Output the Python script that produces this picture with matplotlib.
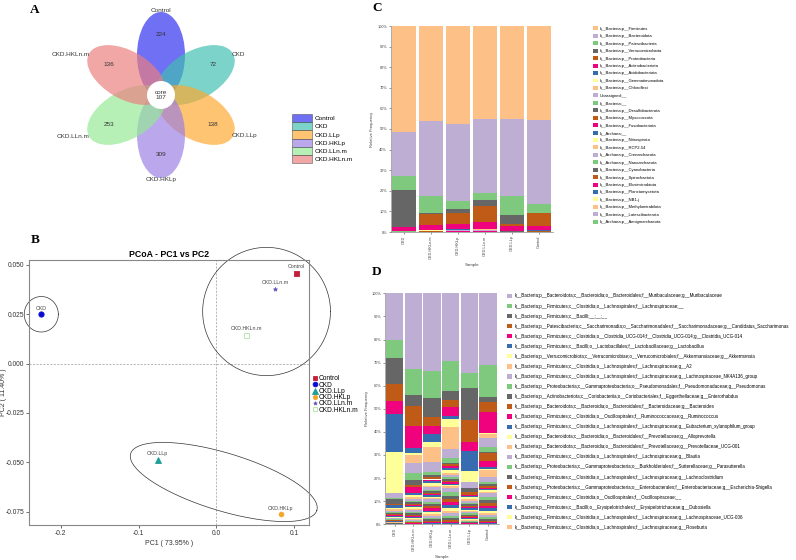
import numpy as np
import matplotlib
matplotlib.use('Agg')
import matplotlib.pyplot as plt
from matplotlib.patches import Ellipse, Circle, Patch

plt.rcParams['font.family'] = ['Liberation Sans', 'DejaVu Sans']

W, H = 796, 560

# ---------------- data ----------------
# A: flower venn
venn_groups = ['Control', 'CKD', 'CKD.LLp', 'CKD.HKLp', 'CKD.LLn.m', 'CKD.HKLn.m']
venn_unique = [224, 72, 138, 309, 253, 136]
venn_core = 107
venn_colors = ['#2C2CF1', '#3EBFB0', '#FFA930', '#9B7EE2', '#94EA94', '#EC7E7E']

# B: PCoA
pcoa_groups = ['Control', 'CKD', 'CKD.LLp', 'CKD.HKLp', 'CKD.LLn.m', 'CKD.HKLn.m']
pc1 = [0.1024, -0.2250, -0.0755, 0.0828, 0.0755, 0.0386]
pc2 = [0.0461, 0.0250, -0.0488, -0.0764, 0.0380, 0.0146]
# group ellipses: centre, first semi-axis vector, second semi-axis vector
ellipses = [
    ((-0.2250, 0.0250), (0.0219, 0.0), (0.0, 0.0090)),
    ((0.0644, 0.0264), (0.0821, 0.0), (0.0, 0.0325)),
    ((0.0094, -0.0600), (0.1196, -0.01436), (-0.01079, -0.01400)),
]

# C / D: samples
samples = ['CKD', 'CKD.HKLn.m', 'CKD.HKLp', 'CKD.LLn.m', 'CKD.LLp', 'Control']
palette = ['#FDC086', '#BEAED4', '#7FC97F', '#666666', '#BF5B17', '#F0027F', '#386CB0', '#FFFF99']

phyla = ['k__Bacteria;p__Firmicutes', 'k__Bacteria;p__Bacteroidota', 'k__Bacteria;p__Patescibacteria',
         'k__Bacteria;p__Verrucomicrobiota', 'k__Bacteria;p__Proteobacteria', 'k__Bacteria;p__Actinobacteriota',
         'k__Bacteria;p__Acidobacteriota', 'k__Bacteria;p__Gemmatimonadota', 'k__Bacteria;p__Chloroflexi',
         'Unassigned;__', 'k__Bacteria;__', 'k__Bacteria;p__Desulfobacterota', 'k__Bacteria;p__Myxococcota',
         'k__Bacteria;p__Fusobacteriota', 'k__Archaea;__', 'k__Bacteria;p__Nitrospirota', 'k__Bacteria;p__RCP2-54',
         'k__Archaea;p__Crenarchaeota', 'k__Archaea;p__Nanoarchaeota', 'k__Bacteria;p__Cyanobacteria',
         'k__Bacteria;p__Spirochaetota', 'k__Bacteria;p__Elusimicrobiota', 'k__Bacteria;p__Planctomycetota',
         'k__Bacteria;p__NB1-j', 'k__Bacteria;p__Methylomirabilota', 'k__Bacteria;p__Latescibacterota',
         'k__Archaea;p__Aenigmarchaeota']
phylum_vals = [
    [51.5, 46.4, 47.8, 45.3, 45.1, 45.9],
    [21.2, 36.2, 37.4, 35.9, 37.6, 40.6],
    [7.1, 8.4, 4.1, 3.3, 9.0, 4.3],
    [17.8, 0.7, 1.8, 3.3, 4.6, 0.1],
    [0.2, 5.0, 5.1, 7.8, 0.8, 6.4],
    [1.9, 2.7, 2.8, 3.1, 2.4, 2.1],
    [0.05, 0.08, 0.10, 0.12, 0.06, 0.08],
    [0.03, 0.05, 0.06, 0.08, 0.04, 0.05],
    [0.02, 0.10, 0.15, 0.60, 0.05, 0.10],
    [0.05, 0.20, 0.50, 0.20, 0.15, 0.15],
    [0.04, 0.10, 0.10, 0.15, 0.08, 0.08],
    [0.03, 0.06, 0.08, 0.10, 0.05, 0.06],
    [0.02, 0.04, 0.05, 0.06, 0.03, 0.04],
    [0.02, 0.03, 0.04, 0.05, 0.03, 0.03],
    [0.02, 0.03, 0.03, 0.04, 0.02, 0.03],
    [0.01, 0.02, 0.03, 0.03, 0.02, 0.02],
    [0.01, 0.02, 0.02, 0.03, 0.02, 0.02],
    [0.01, 0.02, 0.02, 0.02, 0.01, 0.02],
    [0.01, 0.01, 0.02, 0.02, 0.01, 0.01],
    [0.01, 0.01, 0.02, 0.02, 0.01, 0.01],
    [0.01, 0.01, 0.01, 0.02, 0.01, 0.01],
    [0.01, 0.01, 0.01, 0.01, 0.01, 0.01],
    [0.01, 0.01, 0.01, 0.01, 0.01, 0.01],
    [0.01, 0.01, 0.01, 0.01, 0.01, 0.01],
    [0.01, 0.01, 0.01, 0.01, 0.01, 0.01],
    [0.01, 0.01, 0.01, 0.01, 0.01, 0.01],
    [0.01, 0.01, 0.01, 0.01, 0.01, 0.01],
]

genera = [
    'k__Bacteria;p__Bacteroidota;c__Bacteroidia;o__Bacteroidales;f__Muribaculaceae;g__Muribaculaceae',
    'k__Bacteria;p__Firmicutes;c__Clostridia;o__Lachnospirales;f__Lachnospiraceae;__',
    'k__Bacteria;p__Firmicutes;c__Bacilli;__;__;__',
    'k__Bacteria;p__Patescibacteria;c__Saccharimonadia;o__Saccharimonadales;f__Saccharimonadaceae;g__Candidatus_Saccharimonas',
    'k__Bacteria;p__Firmicutes;c__Clostridia;o__Clostridia_UCG-014;f__Clostridia_UCG-014;g__Clostridia_UCG-014',
    'k__Bacteria;p__Firmicutes;c__Bacilli;o__Lactobacillales;f__Lactobacillaceae;g__Lactobacillus',
    'k__Bacteria;p__Verrucomicrobiota;c__Verrucomicrobiae;o__Verrucomicrobiales;f__Akkermansiaceae;g__Akkermansia',
    'k__Bacteria;p__Firmicutes;c__Clostridia;o__Lachnospirales;f__Lachnospiraceae;g__A2',
    'k__Bacteria;p__Firmicutes;c__Clostridia;o__Lachnospirales;f__Lachnospiraceae;g__Lachnospiraceae_NK4A136_group',
    'k__Bacteria;p__Proteobacteria;c__Gammaproteobacteria;o__Pseudomonadales;f__Pseudomonadaceae;g__Pseudomonas',
    'k__Bacteria;p__Actinobacteriota;c__Coriobacteriia;o__Coriobacteriales;f__Eggerthellaceae;g__Enterorhabdus',
    'k__Bacteria;p__Bacteroidota;c__Bacteroidia;o__Bacteroidales;f__Bacteroidaceae;g__Bacteroides',
    'k__Bacteria;p__Firmicutes;c__Clostridia;o__Oscillospirales;f__Ruminococcaceae;g__Ruminococcus',
    'k__Bacteria;p__Firmicutes;c__Clostridia;o__Lachnospirales;f__Lachnospiraceae;g__Eubacterium_xylanophilum_group',
    'k__Bacteria;p__Bacteroidota;c__Bacteroidia;o__Bacteroidales;f__Prevotellaceae;g__Alloprevotella',
    'k__Bacteria;p__Bacteroidota;c__Bacteroidia;o__Bacteroidales;f__Prevotellaceae;g__Prevotellaceae_UCG-001',
    'k__Bacteria;p__Firmicutes;c__Clostridia;o__Lachnospirales;f__Lachnospiraceae;g__Blautia',
    'k__Bacteria;p__Proteobacteria;c__Gammaproteobacteria;o__Burkholderiales;f__Sutterellaceae;g__Parasutterella',
    'k__Bacteria;p__Firmicutes;c__Clostridia;o__Lachnospirales;f__Lachnospiraceae;g__Lachnoclostridium',
    'k__Bacteria;p__Proteobacteria;c__Gammaproteobacteria;o__Enterobacterales;f__Enterobacteriaceae;g__Escherichia-Shigella',
    'k__Bacteria;p__Firmicutes;c__Clostridia;o__Oscillospirales;f__Oscillospiraceae;__',
    'k__Bacteria;p__Firmicutes;c__Bacilli;o__Erysipelotrichales;f__Erysipelotrichaceae;g__Dubosiella',
    'k__Bacteria;p__Firmicutes;c__Clostridia;o__Lachnospirales;f__Lachnospiraceae;g__Lachnospiraceae_UCG-006',
    'k__Bacteria;p__Firmicutes;c__Clostridia;o__Lachnospirales;f__Lachnospiraceae;g__Roseburia',
]
genus_vals = [
    [20.2, 32.5, 33.5, 29.1, 34.3, 31.0],
    [7.6, 11.1, 11.2, 13.0, 6.8, 13.7],
    [11.1, 4.7, 8.3, 4.1, 13.7, 2.5],
    [7.5, 8.7, 3.7, 3.2, 9.7, 4.0],
    [5.5, 9.1, 3.6, 3.7, 3.8, 9.1],
    [16.6, 2.4, 3.5, 1.4, 8.5, 0.3],
    [17.3, 0.6, 1.9, 3.5, 4.7, 0.3],
    [0.3, 3.6, 6.7, 9.5, 0.4, 1.7],
    [2.0, 4.3, 4.1, 3.6, 2.2, 4.0],
    [0.2, 2.9, 1.2, 2.2, 0.3, 1.9],
    [2.3, 2.2, 1.2, 0.6, 1.7, 0.6],
    [0.3, 1.0, 0.9, 0.9, 1.0, 3.6],
    [0.3, 2.6, 0.6, 1.0, 0.7, 2.3],
    [1.3, 0.6, 0.9, 0.7, 0.5, 1.0],
    [0.5, 1.0, 1.1, 1.2, 0.8, 0.7],
    [0.5, 0.8, 0.8, 1.1, 0.7, 2.9],
    [0.6, 0.8, 0.9, 0.8, 0.8, 2.2],
    [0.4, 0.6, 0.8, 0.7, 0.6, 0.6],
    [0.5, 0.7, 0.6, 0.8, 0.7, 1.0],
    [0.4, 0.6, 0.5, 0.6, 0.6, 0.7],
    [0.4, 0.5, 0.5, 0.7, 0.6, 0.7],
    [0.3, 0.4, 0.6, 0.5, 0.5, 0.5],
    [0.4, 0.6, 0.5, 0.6, 0.5, 0.6],
    [0.4, 0.5, 0.5, 0.7, 0.6, 0.7],
]
# further low-abundance genera (not in the legend)
minor_genus_vals = [
    [0.3, 0.8, 1.2, 1.8, 0.6, 1.5],
    [0.2, 0.6, 1.0, 1.6, 0.5, 1.4],
    [0.3, 0.6, 1.0, 1.5, 0.5, 1.3],
    [0.2, 0.5, 0.9, 1.4, 0.5, 1.2],
    [0.2, 0.5, 0.9, 1.3, 0.4, 1.1],
    [0.2, 0.5, 0.8, 1.2, 0.4, 1.0],
    [0.2, 0.4, 0.8, 1.1, 0.4, 1.0],
    [0.2, 0.4, 0.8, 1.1, 0.4, 0.9],
    [0.2, 0.4, 0.7, 1.0, 0.3, 0.9],
    [0.1, 0.4, 0.7, 1.0, 0.3, 0.8],
    [0.1, 0.3, 0.6, 0.9, 0.3, 0.7],
    [0.1, 0.3, 0.6, 0.8, 0.2, 0.6],
    [0.1, 0.3, 0.5, 0.6, 0.3, 0.5],
    [0.1, 0.2, 0.4, 0.5, 0.2, 0.5],
]

fig = plt.figure(figsize=(W / 100, H / 100), dpi=100)


def px_axes(l, t, r, b):
    return fig.add_axes([l / W, 1 - b / H, (r - l) / W, (b - t) / H])


def panel_letter(x, y, s):
    fig.text(x / W, 1 - y / H, s, family='Liberation Serif', weight='bold',
             fontsize=9.5, ha='center', va='center')


panel_letter(35, 10, 'A')
panel_letter(35, 240, 'B')
panel_letter(377, 8, 'C')
panel_letter(377, 272, 'D')

# ---------------- A: flower ----------------
axA = px_axes(40, 0, 285, 200)
axA.set_xlim(-121, 124)
axA.set_ylim(-105, 95)
axA.axis('off')
angles = [90, 30, -30, -90, -150, 150]
for ang, g, n, c in zip(angles, venn_groups, venn_unique, venn_colors):
    t = np.deg2rad(ang)
    axA.add_patch(Ellipse((40 * np.cos(t), 40 * np.sin(t)), 86, 48, angle=ang,
                          facecolor=c, alpha=0.68, edgecolor='none'))
    axA.text(60 * np.cos(t), 60 * np.sin(t), str(n), fontsize=4.6, color='#333333',
             ha='center', va='center')
    lx, ly = 82 * np.cos(t), 82 * np.sin(t)
    if ang == 90:
        ha, va = 'center', 'bottom'
    elif ang == -90:
        ha, va = 'center', 'top'
    elif abs(ang) < 90:
        ha, va = 'left', 'center'
    else:
        ha, va = 'right', 'center'
    axA.text(lx, ly, g, fontsize=4.6, color='#333333', ha=ha, va=va)
axA.add_patch(Circle((0, 0), 14, facecolor='white', edgecolor='none', zorder=5))
axA.text(0, 0, 'core\n%d' % venn_core, fontsize=4.6, color='#333333', ha='center',
         va='center', linespacing=1.0, zorder=6)
fig.legend([Patch(facecolor=c, alpha=0.68, edgecolor='#444444', lw=0.5) for c in venn_colors],
           venn_groups, loc='upper left', bbox_to_anchor=(291.5 / W, 1 - 114 / H),
           fontsize=4.6, frameon=False, handlelength=3.2, handleheight=1.6,
           labelspacing=0.0, handletextpad=0.35, borderpad=0, borderaxespad=0)

# ---------------- B: PCoA ----------------
axB = px_axes(29.3, 260, 309.3, 525)
axB.set_xlim(-0.2404, 0.1193)
axB.set_ylim(-0.0818, 0.0525)
axB.axhline(0, color='#999999', lw=0.5, ls=(0, (3, 2)))
axB.axvline(0, color='#999999', lw=0.5, ls=(0, (3, 2)))
tt = np.linspace(0, 2 * np.pi, 300)
for (cx, cy), (ux, uy), (vx, vy) in ellipses:
    axB.plot(cx + ux * np.cos(tt) + vx * np.sin(tt), cy + uy * np.cos(tt) + vy * np.sin(tt),
             color='#333333', lw=0.5, clip_on=False)
styles = [('s', '#C41E3A', 3.6, True), ('o', '#0A0AD2', 3.8, True), ('^', '#1E9E98', 4.2, True),
          ('o', '#F4A62A', 3.4, True), ('*', '#6B5FB5', 3.0, True), ('s', '#A8E6A1', 3.6, False)]
for g, x, y, (m, c, ms, filled) in zip(pcoa_groups, pc1, pc2, styles):
    axB.plot([x], [y], marker=m, ls='none', ms=ms, color=c,
             mfc=c if filled else 'none', mew=0.6, label=g)
    axB.annotate(g, (x, y), xytext=(0, 2.5), textcoords='offset points', ha='center',
                 va='bottom', fontsize=3.8, color='#444444')
axB.set_xticks([-0.2, -0.1, 0.0, 0.1])
axB.set_xticklabels(['-0.2', '-0.1', '0.0', '0.1'])
axB.set_yticks([0.05, 0.025, 0.0, -0.025, -0.05, -0.075])
axB.set_yticklabels(['0.050', '0.025', '0.000', '-0.025', '-0.050', '-0.075'])
axB.tick_params(labelsize=4.8, length=2, width=0.5, pad=1.5, colors='#333333')
for s in axB.spines.values():
    s.set_color('#888888')
    s.set_linewidth(0.8)
axB.set_title('PCoA - PC1 vs PC2', fontsize=6.3, weight='bold', pad=2)
axB.set_xlabel('PC1 ( 73.95% )', fontsize=5, labelpad=2, color='#333333')
axB.set_ylabel('PC2 ( 11.40% )', fontsize=5, color='#333333')
axB.yaxis.set_label_coords(-0.079, 0.5)
axB.legend(loc='upper left', bbox_to_anchor=(313.5 / W, 1 - 375.5 / H),
           bbox_transform=fig.transFigure, fontsize=4.8, frameon=False, handlelength=0.5,
           handletextpad=0.3, labelspacing=-0.12, borderpad=0, borderaxespad=0, markerscale=0.9)


# ---------------- C / D: stacked bars ----------------
def stacked(ax, vals, width, colors):
    arr = np.array(vals, dtype=float)
    arr = arr / arr.sum(axis=0) * 100
    x = np.arange(arr.shape[1])
    bottom = np.zeros(arr.shape[1])
    handles = [None] * arr.shape[0]
    for i in range(arr.shape[0] - 1, -1, -1):
        handles[i] = ax.bar(x, arr[i], width, bottom=bottom, color=colors[i], lw=0)
        bottom += arr[i]
    ax.set_ylim(0, 100)
    ax.set_yticks(np.arange(0, 101, 10))
    ax.set_yticklabels(['%d%%' % v for v in range(0, 101, 10)])
    ax.set_xticks(x)
    ax.set_xticklabels(samples, rotation=90)
    for s in ['top', 'right']:
        ax.spines[s].set_visible(False)
    for s in ['left', 'bottom']:
        ax.spines[s].set_color('#888888')
        ax.spines[s].set_linewidth(0.5)
    ax.tick_params(labelsize=2.8, length=1.5, width=0.4, pad=1, colors='#444444')
    ax.set_ylabel('Relative Frequency', fontsize=3, labelpad=2, color='#444444')
    ax.set_xlabel('Sample', fontsize=3.2, labelpad=3, color='#444444')
    return handles


axC = px_axes(390.7, 26, 553, 232)
axC.set_xlim(-0.49, 5.52)
c_colors = [palette[i % 8] for i in range(len(phyla))]
hC = stacked(axC, phylum_vals, 0.9, c_colors)
fig.legend([Patch(facecolor=c) for c in c_colors], phyla, loc='upper left',
           bbox_to_anchor=(593 / W, 1 - 26.5 / H), fontsize=3.0, frameon=False,
           handlelength=1.08, handleheight=1.08, labelspacing=0.73, handletextpad=0.55,
           borderpad=0, borderaxespad=0)

axD = px_axes(385.3, 293.3, 499.2, 524.3)
axD.set_xlim(-0.5, 5.6)
n_all = len(genera) + len(minor_genus_vals)
d_colors = [palette[(i + 1) % 8] for i in range(n_all)]
hD = stacked(axD, genus_vals + minor_genus_vals, 0.93, d_colors)
fig.legend([Patch(facecolor=c) for c in d_colors[:len(genera)]], genera, loc='upper left',
           bbox_to_anchor=(506.5 / W, 1 - 293.5 / H), fontsize=3.28, frameon=False,
           handlelength=1.22, handleheight=1.09, labelspacing=1.11, handletextpad=0.55,
           borderpad=0, borderaxespad=0)

fig.savefig('out.png', dpi=100)
